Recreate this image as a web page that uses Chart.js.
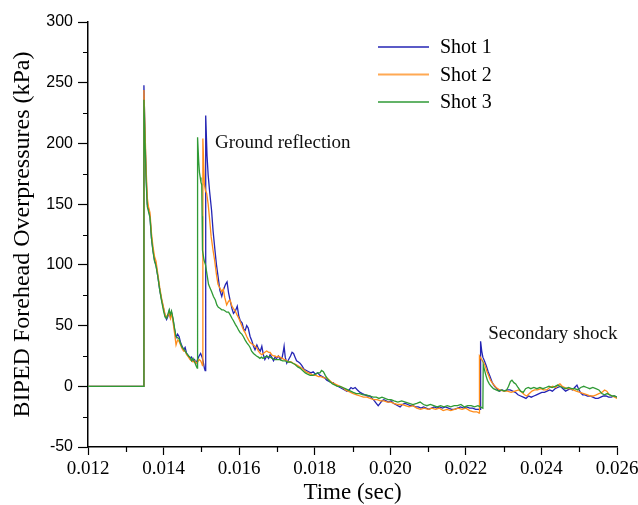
<!DOCTYPE html>
<html>
<head>
<meta charset="utf-8">
<script src="https://cdn.jsdelivr.net/npm/chart.js@4.4.0/dist/chart.umd.min.js"></script>
<style>
  html, body { margin: 0; padding: 0; background: #fff; }
  #wrap { position: relative; width: 638px; height: 505px; }
</style>
</head>
<body>
<div id="wrap"><canvas id="c" width="638" height="505"></canvas></div>
<script>
// Forehead overpressure traces, [time (s), overpressure (kPa)]
const shot1 = [
  [0.01200,0],[0.01347,0],[0.01348,248],[0.01351,205],[0.01354,172],[0.01357,150],[0.01360,146],[0.01364,140],
  [0.01368,122],[0.01372,112],[0.01376,104],[0.01380,100],[0.01385,90],[0.01390,79],[0.01395,71],[0.01400,64],
  [0.01404,58],[0.01408,55],[0.01412,58],[0.01415,62],[0.01418,57],[0.01421,61],[0.01425,55],[0.01429,47],
  [0.01433,40],[0.01437,43],[0.01441,41],[0.01445,36],[0.01449,33],[0.01453,30],[0.01457,32],[0.01461,27],
  [0.01466,25],[0.01470,23],[0.01474,24],[0.01478,21],[0.01482,22],[0.01486,19],[0.01490,22],[0.01494,25],
  [0.01498,27],[0.01502,24],[0.01505,20],[0.01508,15],[0.01510,13],[0.01511,14],[0.01512,223],[0.01515,190],
  [0.01518,174],[0.01522,160],[0.01527,145],[0.01531,128],[0.01536,112],[0.01540,100],[0.01544,91],[0.01549,79],
  [0.01554,74],[0.01559,80],[0.01564,84],[0.01568,86],[0.01572,77],[0.01576,71],[0.01581,64],[0.01585,60],
  [0.01590,62],[0.01595,66],[0.01599,58],[0.01603,54],[0.01608,52],[0.01612,47],[0.01616,46],[0.01620,50],
  [0.01624,48],[0.01629,41],[0.01633,38],[0.01638,33],[0.01642,30],[0.01647,34],[0.01651,31],[0.01656,29],
  [0.01660,33],[0.01664,26],[0.01668,22],[0.01673,25],[0.01678,23],[0.01682,26],[0.01686,24],[0.01691,21],
  [0.01695,24],[0.01699,23],[0.01704,25],[0.01709,22],[0.01714,24],[0.01717,29],[0.01719,33],[0.01722,24],
  [0.01726,19],[0.01731,22],[0.01736,25],[0.01740,28],[0.01744,27],[0.01748,24],[0.01752,21],[0.01757,20],
  [0.01761,19],[0.01766,17],[0.01772,14],[0.01778,13],[0.01784,12],[0.01790,11],[0.01796,12],[0.01802,10],
  [0.01808,11],[0.01814,9],[0.01820,8],[0.01826,7],[0.01832,5],[0.01838,4],[0.01844,3],[0.01849,3],
  [0.01855,1],[0.01861,0],[0.01867,-1],[0.01873,-2],[0.01879,-3],[0.01885,-4],[0.01891,-3],[0.01896,-1],
  [0.01901,-2],[0.01907,-1],[0.01913,-3],[0.01920,-5],[0.01926,-6],[0.01933,-7],[0.01940,-8],[0.01946,-8],
  [0.01952,-10],[0.01958,-12],[0.01963,-14],[0.01968,-16],[0.01973,-14],[0.01978,-12],[0.01983,-11],[0.01989,-12],
  [0.01995,-13],[0.02002,-12],[0.02008,-14],[0.02014,-15],[0.02020,-16],[0.02026,-17],[0.02032,-15],[0.02039,-14],
  [0.02046,-15],[0.02053,-16],[0.02060,-16],[0.02067,-17],[0.02074,-17],[0.02081,-18],[0.02088,-17],[0.02095,-18],
  [0.02102,-19],[0.02109,-18],[0.02116,-17],[0.02123,-18],[0.02130,-17],[0.02138,-18],[0.02146,-17],[0.02154,-18],
  [0.02162,-19],[0.02170,-19],[0.02178,-18],[0.02186,-17],[0.02194,-18],[0.02202,-17],[0.02210,-18],[0.02218,-18],
  [0.02226,-19],[0.02233,-19],[0.02238,-19],[0.02239,37],[0.02242,29],[0.02245,24],[0.02249,21],[0.02254,17],
  [0.02259,12],[0.02264,8],[0.02270,3],[0.02276,0],[0.02282,-2],[0.02289,-4],[0.02296,-3],[0.02303,-4],
  [0.02310,-3],[0.02317,-3],[0.02324,-4],[0.02331,-5],[0.02338,-7],[0.02345,-8],[0.02352,-9],[0.02359,-10],
  [0.02366,-8],[0.02373,-9],[0.02380,-8],[0.02387,-7],[0.02394,-6],[0.02401,-5],[0.02408,-5],[0.02415,-4],
  [0.02422,-3],[0.02429,-4],[0.02436,-2],[0.02443,-1],[0.02450,0],[0.02457,-2],[0.02464,-4],[0.02470,-3],
  [0.02476,-2],[0.02482,-3],[0.02488,-1],[0.02494,1],[0.02498,-2],[0.02503,-5],[0.02509,-7],[0.02515,-7],
  [0.02522,-8],[0.02529,-8],[0.02536,-9],[0.02543,-10],[0.02550,-10],[0.02557,-9],[0.02564,-8],[0.02571,-8],
  [0.02578,-9],[0.02585,-9],[0.02592,-8],[0.02600,-9]
];

const shot2 = [
  [0.01200,0],[0.01347,0],[0.01348,244],[0.01351,210],[0.01354,178],[0.01357,155],[0.01360,148],[0.01364,143],
  [0.01368,126],[0.01372,115],[0.01376,107],[0.01380,103],[0.01385,92],[0.01390,81],[0.01395,72],[0.01400,65],
  [0.01404,59],[0.01408,57],[0.01412,59],[0.01415,60],[0.01418,56],[0.01421,60],[0.01425,53],[0.01429,44],
  [0.01433,34],[0.01437,38],[0.01441,37],[0.01445,34],[0.01449,31],[0.01453,29],[0.01457,29],[0.01461,26],
  [0.01466,24],[0.01470,22],[0.01474,21],[0.01478,20],[0.01482,21],[0.01486,19],[0.01490,20],[0.01494,22],
  [0.01498,21],[0.01501,19],[0.01503,17],[0.01504,204],[0.01506,185],[0.01508,166],[0.01511,161],[0.01514,159],
  [0.01518,150],[0.01522,137],[0.01526,123],[0.01531,112],[0.01535,104],[0.01540,92],[0.01544,84],[0.01549,81],
  [0.01554,78],[0.01558,80],[0.01562,73],[0.01567,67],[0.01572,70],[0.01576,71],[0.01581,66],[0.01585,64],
  [0.01590,62],[0.01594,59],[0.01599,56],[0.01603,53],[0.01608,49],[0.01612,46],[0.01616,44],[0.01620,41],
  [0.01625,38],[0.01629,36],[0.01633,35],[0.01638,34],[0.01642,33],[0.01646,32],[0.01651,29],[0.01656,27],
  [0.01660,26],[0.01664,27],[0.01668,28],[0.01673,29],[0.01678,28],[0.01682,28],[0.01686,26],[0.01691,25],
  [0.01695,25],[0.01699,24],[0.01704,25],[0.01708,24],[0.01714,23],[0.01720,22],[0.01726,21],[0.01732,20],
  [0.01738,20],[0.01743,19],[0.01749,18],[0.01755,17],[0.01760,16],[0.01765,15],[0.01770,14],[0.01776,12],
  [0.01783,11],[0.01790,10],[0.01796,9],[0.01803,9],[0.01810,8],[0.01817,8],[0.01824,7],[0.01832,7],
  [0.01839,5],[0.01846,3],[0.01853,2],[0.01860,1],[0.01867,0],[0.01874,-1],[0.01881,-3],[0.01888,-4],
  [0.01895,-5],[0.01902,-6],[0.01911,-7],[0.01920,-8],[0.01929,-9],[0.01938,-9],[0.01947,-10],[0.01956,-11],
  [0.01965,-11],[0.01974,-12],[0.01983,-12],[0.01992,-13],[0.02001,-13],[0.02010,-14],[0.02020,-15],[0.02030,-15],
  [0.02040,-16],[0.02050,-17],[0.02060,-16],[0.02070,-18],[0.02080,-19],[0.02090,-18],[0.02100,-19],[0.02110,-18],
  [0.02120,-19],[0.02130,-18],[0.02140,-20],[0.02150,-19],[0.02160,-20],[0.02170,-19],[0.02180,-18],[0.02190,-19],
  [0.02200,-18],[0.02210,-20],[0.02220,-21],[0.02229,-21],[0.02235,-22],[0.02236,25],[0.02240,23],[0.02244,21],
  [0.02248,19],[0.02252,16],[0.02256,12],[0.02260,9],[0.02265,5],[0.02272,2],[0.02280,-1],[0.02290,-3],
  [0.02300,-4],[0.02310,-4],[0.02320,-5],[0.02330,-4],[0.02340,-3],[0.02348,-5],[0.02355,-7],[0.02361,-8],
  [0.02368,-6],[0.02375,-4],[0.02382,-3],[0.02390,-3],[0.02398,-2],[0.02406,-3],[0.02414,-3],[0.02422,-1],
  [0.02430,0],[0.02438,-1],[0.02444,1],[0.02449,2],[0.02455,0],[0.02462,-1],[0.02469,-2],[0.02476,-2],
  [0.02484,-3],[0.02492,-4],[0.02502,-5],[0.02512,-6],[0.02522,-7],[0.02530,-8],[0.02537,-8],[0.02545,-7],
  [0.02552,-6],[0.02560,-5],[0.02567,-3],[0.02573,-4],[0.02580,-7],[0.02587,-8],[0.02594,-9],[0.02600,-10]
];

const shot3 = [
  [0.01200,0],[0.01347,0],[0.01348,236],[0.01351,200],[0.01354,168],[0.01357,148],[0.01360,144],[0.01364,139],
  [0.01368,122],[0.01372,111],[0.01376,103],[0.01380,99],[0.01385,90],[0.01390,79],[0.01395,70],[0.01400,62],
  [0.01404,57],[0.01408,56],[0.01412,60],[0.01415,63],[0.01418,59],[0.01421,62],[0.01425,56],[0.01429,48],
  [0.01433,41],[0.01437,40],[0.01441,39],[0.01445,35],[0.01449,32],[0.01453,31],[0.01457,29],[0.01461,27],
  [0.01466,25],[0.01470,24],[0.01474,21],[0.01478,23],[0.01482,20],[0.01486,17],[0.01489,15],[0.01490,205],
  [0.01493,185],[0.01495,176],[0.01497,172],[0.01499,168],[0.01501,166],[0.01502,140],[0.01503,112],[0.01505,108],
  [0.01507,104],[0.01511,100],[0.01515,92],[0.01519,84],[0.01523,81],[0.01527,78],[0.01532,74],[0.01537,71],
  [0.01541,67],[0.01545,65],[0.01550,64],[0.01554,63],[0.01558,63],[0.01563,62],[0.01567,61],[0.01572,61],
  [0.01576,59],[0.01581,56],[0.01585,54],[0.01590,51],[0.01594,49],[0.01599,46],[0.01603,44],[0.01607,43],
  [0.01611,41],[0.01616,38],[0.01620,36],[0.01625,34],[0.01629,32],[0.01633,29],[0.01638,27],[0.01642,26],
  [0.01646,25],[0.01651,24],[0.01655,23],[0.01659,24],[0.01663,23],[0.01668,24],[0.01673,25],[0.01678,24],
  [0.01682,24],[0.01688,23],[0.01694,22],[0.01700,22],[0.01708,22],[0.01715,21],[0.01722,21],[0.01728,20],
  [0.01735,20],[0.01742,19],[0.01748,18],[0.01755,16],[0.01761,15],[0.01768,13],[0.01775,11],[0.01781,10],
  [0.01788,9],[0.01795,9],[0.01802,10],[0.01808,11],[0.01814,11],[0.01818,13],[0.01823,12],[0.01828,9],
  [0.01834,6],[0.01840,4],[0.01847,2],[0.01854,1],[0.01860,0],[0.01867,0],[0.01874,-1],[0.01881,-2],
  [0.01888,-3],[0.01895,-4],[0.01902,-5],[0.01910,-6],[0.01919,-6],[0.01928,-7],[0.01937,-7],[0.01946,-8],
  [0.01955,-9],[0.01963,-9],[0.01970,-10],[0.01978,-9],[0.01986,-10],[0.01994,-11],[0.02002,-11],[0.02010,-12],
  [0.02020,-13],[0.02030,-12],[0.02040,-13],[0.02050,-14],[0.02060,-15],[0.02070,-14],[0.02079,-13],[0.02088,-15],
  [0.02097,-16],[0.02106,-15],[0.02115,-16],[0.02124,-17],[0.02133,-16],[0.02142,-17],[0.02151,-16],[0.02160,-17],
  [0.02169,-16],[0.02178,-16],[0.02187,-15],[0.02196,-17],[0.02205,-16],[0.02214,-16],[0.02223,-17],[0.02232,-16],
  [0.02238,-17],[0.02245,-18],[0.02246,18],[0.02249,14],[0.02253,9],[0.02257,5],[0.02262,2],[0.02267,0],
  [0.02273,-2],[0.02280,-3],[0.02287,-4],[0.02294,-3],[0.02301,-4],[0.02308,-3],[0.02313,0],[0.02318,4],
  [0.02322,5],[0.02327,3],[0.02332,2],[0.02338,-1],[0.02345,-4],[0.02352,-5],[0.02358,-2],[0.02365,-1],
  [0.02372,-2],[0.02380,-1],[0.02388,-2],[0.02396,-1],[0.02404,-2],[0.02412,-1],[0.02420,0],[0.02428,-1],
  [0.02436,0],[0.02443,1],[0.02449,0],[0.02456,-1],[0.02464,-2],[0.02472,-1],[0.02480,-2],[0.02488,-2],
  [0.02496,-3],[0.02504,-1],[0.02512,0],[0.02520,-1],[0.02528,-2],[0.02536,-1],[0.02544,-2],[0.02552,-3],
  [0.02560,-6],[0.02567,-7],[0.02574,-6],[0.02581,-7],[0.02588,-8],[0.02594,-8],[0.02600,-9]
];

const seriesNames  = ['Shot 1', 'Shot 2', 'Shot 3'];
const seriesColors = ['#2424b4', '#ff8c1a', '#2f9a35'];

// Axis ticks (labelled) and the unlabelled minor ticks between them
const xTickValues = [0.012, 0.014, 0.016, 0.018, 0.020, 0.022, 0.024, 0.026];
const xMinorTicks = [0.013, 0.015, 0.017, 0.019, 0.021, 0.023, 0.025];
const yTickValues = [-50, 0, 50, 100, 150, 200, 250, 300];
const yMinorTicks = [-25, 25, 75, 125, 175, 225, 275];

// Event labels placed at (time, kPa)
const eventLabels = [
  { text: 'Ground reflection', t: 0.01536, kPa: 200 },
  { text: 'Secondary shock',   t: 0.02259, kPa: 43 }
];

const SERIF = "'Liberation Serif', 'Times New Roman', serif";
const SANS  = "'Liberation Sans', Arial, sans-serif";

const traces = [shot1, shot2, shot3];
const datasets = traces.map((trace, i) => ({
  label: seriesNames[i],
  data: trace.map(([t, p]) => ({ x: t, y: p })),
  borderColor: seriesColors[i],
  backgroundColor: seriesColors[i],
  borderWidth: 1.3,
  pointRadius: 0,
  tension: 0,
  fill: false,
  order: 2 - i
}));

// minor ticks on both axes
const minorTicks = {
  id: 'minorTicks',
  afterDraw(chart) {
    const { ctx, scales: { x, y } } = chart;
    ctx.save();
    ctx.strokeStyle = '#000';
    ctx.lineWidth = 1.2;
    ctx.beginPath();
    xMinorTicks.forEach(v => {
      const px = Math.round(x.getPixelForValue(v)) + 0.5;
      ctx.moveTo(px, y.bottom);
      ctx.lineTo(px, y.bottom + 5);
    });
    yMinorTicks.forEach(v => {
      const py = Math.round(y.getPixelForValue(v)) + 0.5;
      ctx.moveTo(x.left, py);
      ctx.lineTo(x.left - 5, py);
    });
    ctx.stroke();
    ctx.restore();
  }
};

// legend drawn inside the plot, top right
const innerLegend = {
  id: 'innerLegend',
  afterDraw(chart) {
    const { ctx, chartArea } = chart;
    const x0 = chartArea.right - 239, x1 = chartArea.right - 188, xt = chartArea.right - 177;
    ctx.save();
    ctx.font = '20px ' + SERIF;
    ctx.textAlign = 'left';
    ctx.textBaseline = 'middle';
    seriesNames.forEach((name, i) => {
      const yy = chartArea.top + 25 + i * 27.5;
      ctx.strokeStyle = seriesColors[i];
      ctx.globalAlpha = 0.75;
      ctx.lineWidth = 2;
      ctx.beginPath();
      ctx.moveTo(x0, yy);
      ctx.lineTo(x1, yy);
      ctx.stroke();
      ctx.globalAlpha = 1;
      ctx.fillStyle = '#000';
      ctx.fillText(name, xt, yy + 1);
    });
    ctx.restore();
  }
};

// event annotations
const eventText = {
  id: 'eventText',
  afterDatasetsDraw(chart) {
    const { ctx, scales: { x, y } } = chart;
    ctx.save();
    ctx.font = '19px ' + SERIF;
    ctx.fillStyle = '#111';
    ctx.textAlign = 'left';
    ctx.textBaseline = 'middle';
    eventLabels.forEach(l => ctx.fillText(l.text, x.getPixelForValue(l.t), y.getPixelForValue(l.kPa)));
    ctx.restore();
  }
};

new Chart(document.getElementById('c'), {
  type: 'line',
  data: { datasets },
  options: {
    responsive: false,
    animation: false,
    devicePixelRatio: 1,
    layout: { padding: { left: 0, top: 22, right: 0, bottom: 0 } },
    plugins: { legend: { display: false }, tooltip: { enabled: false } },
    scales: {
      x: {
        type: 'linear',
        min: 0.012,
        max: 0.026,
        afterBuildTicks: s => { s.ticks = xTickValues.map(v => ({ value: v })); },
        afterFit: s => { s.height = 58; s.paddingRight = 21; },
        border: { display: true, color: '#000', width: 1.5 },
        grid: { drawOnChartArea: false, drawTicks: true, tickLength: 8, tickColor: '#000', tickWidth: 1.2 },
        ticks: {
          autoSkip: false, maxRotation: 0, padding: 3, color: '#000',
          font: { family: SERIF, size: 19 },
          callback: v => Number(v).toFixed(3)
        },
        title: {
          display: true, text: 'Time (sec)', color: '#000',
          font: { family: SERIF, size: 23, lineHeight: 1 },
          padding: { top: 1, bottom: 1 }
        }
      },
      y: {
        type: 'linear',
        min: -50,
        max: 300,
        afterBuildTicks: s => { s.ticks = yTickValues.map(v => ({ value: v })); },
        afterFit: s => { s.width = 88; },
        border: { display: true, color: '#000', width: 1.5 },
        grid: { drawOnChartArea: false, drawTicks: true, tickLength: 10, tickColor: '#000', tickWidth: 1.2 },
        ticks: {
          autoSkip: false, padding: 5, color: '#000',
          font: { family: SANS, size: 16 },
          callback: v => String(v)
        },
        title: {
          display: true, text: 'BIPED Forehead Overpressures (kPa)', color: '#000',
          font: { family: SERIF, size: 24, lineHeight: 1 },
          padding: { top: 11, bottom: 11 }
        }
      }
    }
  },
  plugins: [minorTicks, innerLegend, eventText]
});
</script>
</body>
</html>
